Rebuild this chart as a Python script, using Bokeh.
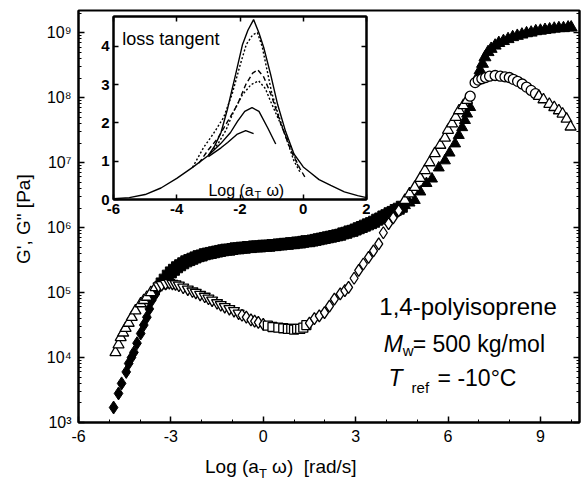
from bokeh.plotting import figure
from bokeh.models import (Range1d, FixedTicker, LinearAxis, LogAxis, Label, Div,
                          CustomJSTickFormatter)
from bokeh.embed import file_html
from bokeh.resources import INLINE

FONT = "Liberation Sans"

# ---------------- main chart data (x = log(aT w), y in Pa) ----------------
gp_dia_x = [-4.86, -4.7, -4.6, -4.45, -4.37, -4.28, -4.2, -4.1, -3.98, -3.88, -3.78, -3.7, -3.62, -3.5, -3.39]
gp_dia_y = [1.7e3, 2.8e3, 4.0e3, 6.0e3, 8.1e3, 1.0e4, 1.2e4, 1.66e4, 2.34e4, 3.16e4, 4.17e4, 5.6e4, 7.6e4, 9.5e4, 1.2e5]

gp_band_x = [-3.3, -3.2, -3.1, -3.0, -2.9, -2.8, -2.7, -2.6, -2.5, -2.4, -2.3, -2.2, -2.1, -2.0,
             -1.9, -1.8, -1.7, -1.6, -1.5, -1.4, -1.3, -1.2, -1.1, -1.0, -0.9, -0.8, -0.7, -0.6,
             -0.5, -0.4, -0.3, -0.2, -0.1, 0.0, 0.1, 0.2, 0.3, 0.4, 0.5, 0.6, 0.7, 0.8, 0.9, 1.0,
             1.1, 1.2, 1.3, 1.4, 1.5, 1.6, 1.7, 1.8, 1.9, 2.0, 2.1, 2.2, 2.3, 2.4, 2.5, 2.6, 2.7,
             2.8, 2.9, 3.0, 3.1, 3.2, 3.3, 3.4, 3.5, 3.6, 3.7, 3.8, 3.9, 4.0, 4.1, 4.2, 4.3, 4.4, 4.5]
gp_band_y = [1.38e5, 1.58e5, 1.82e5, 2.04e5, 2.24e5, 2.45e5, 2.63e5, 2.82e5, 3.02e5, 3.16e5,
             3.31e5, 3.47e5, 3.63e5, 3.72e5, 3.89e5, 3.98e5, 4.07e5, 4.17e5, 4.27e5, 4.37e5,
             4.47e5, 4.57e5, 4.57e5, 4.68e5, 4.79e5, 4.79e5, 4.90e5, 4.90e5, 5.01e5, 5.01e5,
             5.13e5, 5.13e5, 5.13e5, 5.25e5, 5.25e5, 5.25e5, 5.37e5, 5.37e5, 5.50e5, 5.50e5,
             5.62e5, 5.62e5, 5.75e5, 5.75e5, 5.89e5, 5.89e5, 6.03e5, 6.17e5, 6.17e5, 6.31e5,
             6.46e5, 6.61e5, 6.76e5, 6.92e5, 7.08e5, 7.24e5, 7.41e5, 7.59e5, 7.76e5, 8.13e5,
             8.32e5, 8.71e5, 8.91e5, 9.33e5, 9.77e5, 1.02e6, 1.07e6, 1.12e6, 1.17e6, 1.23e6,
             1.32e6, 1.38e6, 1.48e6, 1.55e6, 1.66e6, 1.74e6, 1.86e6, 1.95e6, 2.09e6]

gp_tri_x = [4.6, 4.75, 4.92, 5.1, 5.3, 5.48, 5.7, 5.9, 6.05, 6.23, 6.35, 6.46, 6.55, 6.62, 6.72]
gp_tri_y = [2.19e6, 2.40e6, 2.63e6, 3.55e6, 4.79e6, 5.62e6, 8.32e6, 1.07e7, 1.41e7, 1.95e7,
            2.63e7, 3.47e7, 4.47e7, 5.62e7, 7.08e7]

gp_top_x = [6.95, 7.04, 7.12, 7.2, 7.3, 7.4, 7.53, 7.65, 7.8, 7.95, 8.1, 8.25, 8.4, 8.55, 8.7,
            8.85, 9.0, 9.15, 9.3, 9.45, 9.6, 9.75, 9.9, 10.0]
gp_top_y = [2.0e8, 2.63e8, 3.31e8, 4.17e8, 5.01e8, 5.62e8, 6.31e8, 6.92e8, 7.41e8, 7.94e8,
            8.51e8, 8.91e8, 9.33e8, 9.77e8, 1.0e9, 1.05e9, 1.07e9, 1.10e9, 1.12e9, 1.15e9,
            1.17e9, 1.17e9, 1.20e9, 1.20e9]

gpp_tri1_x = [-4.8, -4.7, -4.63, -4.55, -4.47, -4.37, -4.27, -4.15, -3.98, -3.88, -3.78, -3.65, -3.5]
gpp_tri1_y = [1.2e4, 1.58e4, 2.04e4, 2.4e4, 2.82e4, 3.39e4, 4.17e4, 5.25e4, 6.76e4, 7.59e4,
              8.51e4, 1.0e5, 1.2e5]

gpp_band_x = [-3.4, -3.3, -3.17, -3.05, -2.95, -2.85, -2.74, -2.6, -2.45, -2.3, -2.19, -2.05,
              -1.9, -1.78, -1.66, -1.5, -1.38, -1.25, -1.1, -0.95, -0.8]
gpp_band_y = [1.26e5, 1.32e5, 1.38e5, 1.41e5, 1.38e5, 1.35e5, 1.29e5, 1.2e5, 1.12e5, 1.05e5,
              1.0e5, 9.33e4, 8.71e4, 8.13e4, 7.59e4, 6.92e4, 6.46e4, 6.03e4, 5.62e4, 5.25e4, 4.79e4]

gpp_dia_x = [-0.69, -0.55, -0.4, -0.28, -0.16, 0.0]
gpp_dia_y = [4.47e4, 4.17e4, 3.8e4, 3.63e4, 3.47e4, 3.24e4]

gpp_sq_x = [0.15, 0.3, 0.49, 0.65, 0.8, 0.91, 1.0, 1.1, 1.2, 1.3, 1.4]
gpp_sq_y = [3.09e4, 2.95e4, 2.88e4, 2.82e4, 2.75e4, 2.75e4, 2.69e4, 2.75e4, 2.75e4, 2.88e4, 3.16e4]

gpp_rise_x = [1.5, 1.66, 1.82, 1.99, 2.15, 2.31, 2.5, 2.65, 2.77, 2.95, 3.1, 3.25, 3.42, 3.58,
              3.75, 3.9, 4.07, 4.22, 4.4]
gpp_rise_y = [3.39e4, 3.98e4, 4.37e4, 4.9e4, 6.17e4, 7.94e4, 9.55e4, 1.07e5, 1.2e5, 1.66e5,
              2.19e5, 2.75e5, 3.47e5, 4.37e5, 5.62e5, 8.32e5, 1.15e6, 1.41e6, 1.82e6]

gpp_tri2_x = [4.6, 4.75, 4.92, 5.1, 5.25, 5.4, 5.57, 5.75, 5.9, 6.0, 6.13, 6.25, 6.36, 6.5, 6.62]
gpp_tri2_y = [2.63e6, 3.31e6, 4.17e6, 5.75e6, 7.59e6, 1.0e7, 1.38e7, 1.86e7, 2.4e7, 3.16e7,
              3.98e7, 5.01e7, 6.31e7, 7.59e7, 9.12e7]

gpp_circ_x = [6.72, 6.88, 6.98, 7.1, 7.22, 7.35, 7.53, 7.7, 7.85, 7.99, 8.12, 8.26, 8.41, 8.55, 8.7, 8.84]
gpp_circ_y = [1.05e8, 1.7e8, 1.86e8, 1.95e8, 2.04e8, 2.14e8, 2.19e8, 2.14e8, 2.09e8, 2.04e8,
              1.91e8, 1.78e8, 1.62e8, 1.45e8, 1.29e8, 1.15e8]

gpp_tri3_x = [8.95, 9.1, 9.29, 9.45, 9.6, 9.72, 9.85, 9.98]
gpp_tri3_y = [1.05e8, 9.33e7, 7.94e7, 7.08e7, 6.31e7, 5.62e7, 4.68e7, 3.55e7]

x_major_ticks = [-6, -3, 0, 3, 6, 9]
y_decades = [3, 4, 5, 6, 7, 8, 9]

# ---------------- inset data: loss tangent ----------------
lt_common_x = [-6.0, -5.5, -5.0, -4.5, -4.0, -3.5, -3.0]
lt_common_y = [0.02, 0.05, 0.13, 0.3, 0.55, 0.84, 1.15]

lt_a_x = [-3.0, -2.8, -2.6, -2.4, -2.14, -1.92, -1.75, -1.57, -1.4, -1.25, -1.03, -0.81, -0.56,
          -0.3, 0.0, 0.23, 0.5, 0.87, 1.3, 1.72, 2.0]
lt_a_y = [1.15, 1.4, 1.75, 2.35, 3.26, 4.05, 4.42, 4.70, 4.35, 3.97, 3.26, 2.48, 1.78, 1.2, 0.85,
          0.70, 0.52, 0.37, 0.2, 0.1, 0.05]

lt_b_x = [-3.5, -3.15, -2.84, -2.52, -2.25, -2.0, -1.8, -1.6, -1.45, -1.3, -1.15, -1.0, -0.82,
          -0.62, -0.3, -0.08]
lt_b_y = [0.84, 1.36, 1.72, 2.14, 2.75, 3.5, 4.05, 4.3, 4.36, 4.0, 3.4, 2.8, 2.3, 1.8, 1.02, 0.68]

lt_c_x = [-3.3, -3.0, -2.7, -2.39, -2.08, -1.82, -1.6, -1.44, -1.25, -1.0, -0.72, -0.4, -0.1, 0.08]
lt_c_y = [0.95, 1.3, 1.6, 2.04, 2.48, 3.0, 3.3, 3.39, 3.2, 2.7, 2.0, 1.3, 0.8, 0.55]

lt_d_x = [-3.0, -2.7, -2.45, -2.2, -1.92, -1.65, -1.41, -1.2, -1.03, -0.72, -0.34, -0.15]
lt_d_y = [1.15, 1.45, 1.8, 2.3, 2.74, 3.0, 3.1, 2.9, 2.56, 1.98, 1.28, 0.84]

lt_e_x = [-3.0, -2.61, -2.3, -2.08, -1.85, -1.62, -1.4, -1.13, -0.87]
lt_e_y = [1.15, 1.46, 1.75, 2.04, 2.3, 2.4, 2.3, 1.88, 1.45]

lt_f_x = [-3.0, -2.6, -2.39, -2.1, -1.82, -1.57]
lt_f_y = [1.12, 1.35, 1.49, 1.7, 1.8, 1.72]

inset_x_ticks = [-6, -4, -2, 0, 2]
inset_y_ticks = [0, 1, 2, 3, 4]

# ---------------- formatters ----------------
sup_code = """
const sup = {"0":"\u2070","1":"\u00b9","2":"\u00b2","3":"\u00b3","4":"\u2074","5":"\u2075",
             "6":"\u2076","7":"\u2077","8":"\u2078","9":"\u2079","-":"\u207b"};
const e = Math.round(Math.log10(tick));
return "10" + String(e).split("").map(c => sup[c] || c).join("");
"""
plain_code = "return String(Math.round(tick));"
blank_code = "return ' ';"

# ---------------- main figure ----------------
p = figure(width=581, height=482, y_axis_type="log",
           x_range=Range1d(-6, 10.27), y_range=Range1d(1e3, 2.19e9),
           output_backend="svg", toolbar_location=None,
           min_border_left=78, min_border_right=2, min_border_top=10, min_border_bottom=60)
p.grid.visible = False
p.outline_line_color = "black"
p.outline_line_width = 2
p.border_fill_color = "white"

y_minor = [m * 10 ** k for k in y_decades for m in range(2, 10)]
y_major = [10 ** k for k in y_decades]

xa = p.xaxis[0]
xa.ticker = FixedTicker(ticks=x_major_ticks, minor_ticks=list(range(-6, 11)))
xa.formatter = CustomJSTickFormatter(code=plain_code)
ya = p.yaxis[0]
ya.ticker = FixedTicker(ticks=y_major, minor_ticks=y_minor)
ya.formatter = CustomJSTickFormatter(code=sup_code)
ya.axis_label = "G', G\"  [Pa]"
ya.axis_label_text_font = FONT
ya.axis_label_text_font_size = "19px"
ya.axis_label_text_font_style = "normal"
ya.axis_label_text_color = "black"
ya.axis_label_standoff = 10

right = LogAxis(ticker=FixedTicker(ticks=y_major, minor_ticks=y_minor),
                formatter=CustomJSTickFormatter(code=blank_code),
                major_label_text_font_size="1px", major_label_text_color=None,
                major_label_standoff=0)
p.add_layout(right, "right")

for ax in [xa, ya, right]:
    ax.axis_line_width = 2
    ax.axis_line_color = "black"
    ax.major_tick_in = 6
    ax.major_tick_out = 0
    ax.minor_tick_in = 3
    ax.minor_tick_out = 0
    ax.major_tick_line_width = 1.5
    ax.minor_tick_line_width = 1
    ax.major_tick_line_color = "black"
    ax.minor_tick_line_color = "black"
for ax in [xa, ya]:
    ax.major_label_text_font = FONT
    ax.major_label_text_font_size = "16px"
    ax.major_label_text_color = "black"
    ax.major_label_standoff = 7

# G' (filled)
p.scatter(gp_dia_x, gp_dia_y, marker="diamond", size=13, fill_color="black", line_color="black")
p.scatter(gp_band_x, gp_band_y, marker="square", size=11, fill_color="black", line_color="black")
p.scatter(gp_tri_x, gp_tri_y, marker="triangle", size=11, fill_color="black", line_color="black")
p.scatter(gp_top_x, gp_top_y, marker="triangle", size=12, fill_color="black", line_color="black")
# G'' (open)
op = dict(fill_color="white", line_color="black", line_width=1.3)
p.scatter(gpp_tri1_x, gpp_tri1_y, marker="triangle", size=11, **op)
p.scatter(gpp_band_x, gpp_band_y, marker="inverted_triangle", size=11, **op)
p.scatter(gpp_dia_x, gpp_dia_y, marker="diamond", size=12, **op)
p.scatter(gpp_sq_x, gpp_sq_y, marker="square", size=9, **op)
p.scatter(gpp_rise_x, gpp_rise_y, marker="diamond", size=12, **op)
p.scatter(gpp_tri2_x, gpp_tri2_y, marker="triangle", size=11, **op)
p.scatter(gpp_circ_x, gpp_circ_y, marker="circle", size=10, **op)
p.scatter(gpp_tri3_x, gpp_tri3_y, marker="triangle", size=11, **op)

# annotation
def lab(x, y, text, size, dx=0, dy=0, style="normal", align="left"):
    return Label(x=x, y=y, x_offset=dx, y_offset=dy, text=text, text_font=FONT,
                 text_font_size=size, text_font_style=style, text_color="black",
                 text_align=align, text_baseline="alphabetic")

p.add_layout(lab(6.65, 6.1e4, "1,4-polyisoprene", "24px", align="center"))
p.add_layout(lab(3.91, 1.64e4, "M", "23px", style="italic"))
p.add_layout(lab(3.91, 1.64e4, "w", "15px", dx=19, dy=-7))
p.add_layout(lab(3.91, 1.64e4, "= 500 kg/mol", "23px", dx=29))
p.add_layout(lab(4.07, 4.79e3, "T", "23px", style="italic"))
p.add_layout(lab(4.07, 4.79e3, "ref", "15px", dx=23, dy=-9))
p.add_layout(lab(4.07, 4.79e3, "= -10\u00b0C", "23px", dx=49))

# ---------------- x axis title (HTML, for the subscript) ----------------
xlab = Div(text=("<span style=\"font-family:'Liberation Sans';font-size:19px;color:black;"
                 "white-space:nowrap\">Log (a<sub style=\"font-size:13px\">T</sub> \u03c9)"
                 "&nbsp;&nbsp;[rad/s]</span>"),
           width=200, height=28,
           styles={"position": "absolute", "left": "200px", "top": "448px"})

# ---------------- inset ----------------
ins = figure(width=287, height=209, x_range=Range1d(-6, 2), y_range=Range1d(0, 4.78),
             output_backend="svg", toolbar_location=None,
             min_border_left=30, min_border_right=4, min_border_top=4, min_border_bottom=22)
ins.styles = {"position": "absolute", "left": "83px", "top": "12px"}
ins.grid.visible = False
ins.outline_line_color = "black"
ins.outline_line_width = 2
ins.background_fill_color = "white"
ins.border_fill_alpha = 0

ix = ins.xaxis[0]
iy = ins.yaxis[0]
ix.ticker = FixedTicker(ticks=inset_x_ticks, minor_ticks=[])
iy.ticker = FixedTicker(ticks=inset_y_ticks, minor_ticks=[])
ix.formatter = CustomJSTickFormatter(code=plain_code)
iy.formatter = CustomJSTickFormatter(code=plain_code)
itop = LinearAxis(ticker=FixedTicker(ticks=inset_x_ticks, minor_ticks=[]),
                  formatter=CustomJSTickFormatter(code=blank_code),
                  major_label_text_font_size="1px", major_label_text_color=None,
                  major_label_standoff=0)
iright = LinearAxis(ticker=FixedTicker(ticks=inset_y_ticks, minor_ticks=[]),
                    formatter=CustomJSTickFormatter(code=blank_code),
                    major_label_text_font_size="1px", major_label_text_color=None,
                    major_label_standoff=0)
ins.add_layout(itop, "above")
ins.add_layout(iright, "right")
for ax in [ix, iy, itop, iright]:
    ax.axis_line_width = 2
    ax.axis_line_color = "black"
    ax.major_tick_in = 5
    ax.major_tick_out = 0
    ax.major_tick_line_width = 1.5
    ax.major_tick_line_color = "black"
    ax.minor_tick_line_color = None
for ax in [ix, iy]:
    ax.major_label_text_font = FONT
    ax.major_label_text_font_size = "15px"
    ax.major_label_text_font_style = "bold"
    ax.major_label_text_color = "black"
    ax.major_label_standoff = 4

lw = 1.4
ins.line(lt_common_x, lt_common_y, line_color="black", line_width=lw)
ins.line(lt_a_x, lt_a_y, line_color="black", line_width=lw)
ins.line(lt_b_x, lt_b_y, line_color="black", line_width=lw, line_dash="2 2")
ins.line(lt_c_x, lt_c_y, line_color="black", line_width=lw, line_dash="5 3")
ins.line(lt_d_x, lt_d_y, line_color="black", line_width=lw, line_dash="2 2")
ins.line(lt_e_x, lt_e_y, line_color="black", line_width=lw)
ins.line(lt_f_x, lt_f_y, line_color="black", line_width=lw)

ins.add_layout(lab(-5.72, 4.2, "loss tangent", "18px"))
ins.add_layout(lab(-3.0, 0.23, "Log (a", "16px"))
ins.add_layout(lab(-3.0, 0.23, "T", "11px", dx=46, dy=-4))
ins.add_layout(lab(-3.0, 0.23, "\u03c9)", "16px", dx=58))

open("out.html", "w").write(file_html([p, ins, xlab], INLINE))
